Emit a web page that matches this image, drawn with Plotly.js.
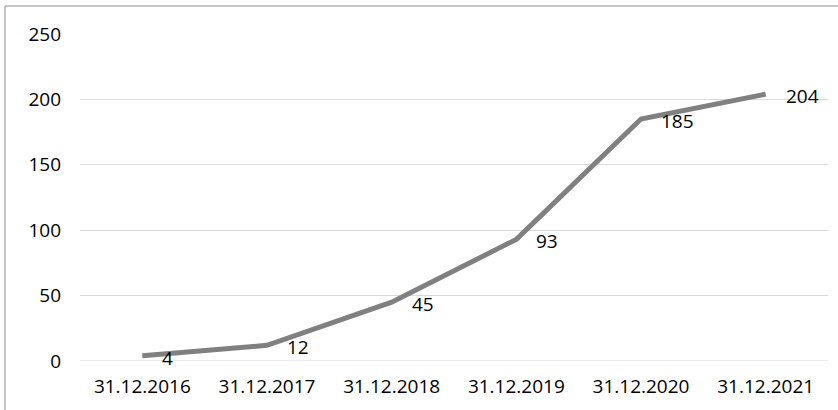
<!DOCTYPE html>
<html>
<head>
<meta charset="utf-8">
<script src="https://cdn.plot.ly/plotly-3.0.1.min.js"></script>
<style>html,body{margin:0;padding:0;background:#fff;}#chart{width:838px;height:410px;}</style>
</head>
<body>
<div id="chart"></div>
<script>
const categories = ["31.12.2016","31.12.2017","31.12.2018","31.12.2019","31.12.2020","31.12.2021"];
const values = [4, 12, 45, 93, 185, 204];
const yTicks = [0, 50, 100, 150, 200, 250];

const L = 80, R = 10, T = 34, B = 49, W = 838, H = 410;
const pw = W - L - R, ph = H - T - B;
const px = x => (x - L) / pw;
const py = y => (H - B - y) / ph;
const FONT = "Open Sans, Liberation Sans, sans-serif";

const trace = {
  x: categories,
  y: values,
  type: "scatter",
  mode: "lines",
  line: {color: "#808080", width: 5},
  hoverinfo: "none"
};

const annotations = categories.map((c, i) => ({
  x: c, y: values[i], xref: "x", yref: "y",
  text: String(values[i]),
  showarrow: false,
  xanchor: "left", yanchor: "middle",
  xshift: 18, yshift: -2,
  font: {family: FONT, size: 19, color: "#000"}
}));

const layout = {
  width: W, height: H,
  margin: {l: L, r: R, t: T, b: B},
  paper_bgcolor: "#fff",
  plot_bgcolor: "#fff",
  showlegend: false,
  font: {family: FONT, size: 19, color: "#000"},
  xaxis: {
    type: "category",
    range: [-0.5, 5.5],
    showgrid: false,
    zeroline: false,
    showline: false,
    ticks: "",
    ticklabelstandoff: 12,
    tickfont: {size: 19, color: "#000"},
    fixedrange: true
  },
  yaxis: {
    range: [0, 250],
    tickvals: yTicks,
    ticktext: yTicks.map(String),
    showgrid: true,
    gridcolor: "#d9d9d9",
    gridwidth: 1,
    zeroline: false,
    showline: false,
    ticks: "",
    ticklabelstandoff: 18,
    tickfont: {size: 19, color: "#000"},
    fixedrange: true
  },
  annotations: annotations,
  shapes: [
    {type: "line", xref: "paper", yref: "paper", x0: px(5), x1: px(838), y0: py(6), y1: py(6), line: {color: "#8c8c8c", width: 1}},
    {type: "line", xref: "paper", yref: "paper", x0: px(5), x1: px(5), y0: py(6), y1: py(410), line: {color: "#8c8c8c", width: 1}},
    {type: "line", xref: "paper", yref: "y", x0: 0, x1: 1, y0: 0, y1: 0, line: {color: "#d9d9d9", width: 1}, layer: "below"}
  ]
};

Plotly.newPlot("chart", [trace], layout, {staticPlot: true, displayModeBar: false});
</script>
</body>
</html>
